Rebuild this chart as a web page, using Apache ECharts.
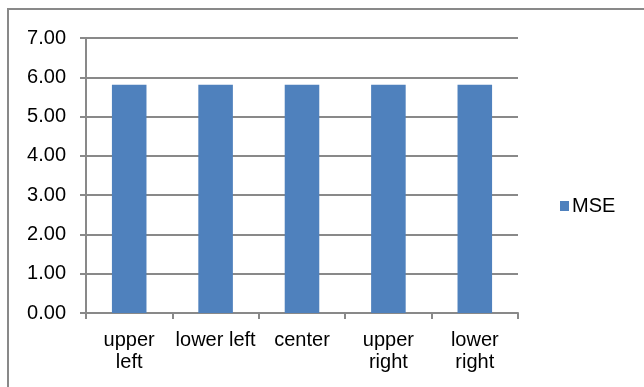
<!DOCTYPE html>
<html>
<head>
<meta charset="utf-8">
<script src="https://cdn.jsdelivr.net/npm/echarts@6/dist/echarts.min.js"></script>
<style>
  html, body { margin: 0; padding: 0; background: #fff; }
  #chart { width: 644px; height: 387px; }
</style>
</head>
<body>
<div id="chart"></div>
<script>
// categories and values
const categories = ['upper\nleft', 'lower left', 'center', 'upper\nright', 'lower\nright'];
const mseValues = [5.81, 5.81, 5.81, 5.81, 5.81];
const seriesName = 'MSE';

const gray = '#898989';
const font = 'Liberation Sans, Arial, sans-serif';

const myChart = echarts.init(document.getElementById('chart'));
const option = {
  animation: false,
  color: ['#4f81bd'],
  graphic: [{
    // outer chart frame (cut off right and bottom)
    type: 'rect',
    silent: true,
    shape: { x: 8, y: 9, width: 800, height: 600 },
    style: { fill: 'none', stroke: gray, lineWidth: 2 }
  }],
  legend: {
    data: [seriesName],
    left: 555,
    top: 191,
    itemWidth: 9,
    itemHeight: 10,
    icon: 'rect',
    textStyle: { fontFamily: font, fontSize: 20, color: '#000', padding: [0, 0, 0, -2] }
  },
  grid: {
    left: 86,
    right: 126,
    top: 38,
    bottom: 74,
    containLabel: false
  },
  xAxis: {
    type: 'category',
    data: categories,
    axisLine: { show: true, lineStyle: { color: gray, width: 2 } },
    axisTick: { show: true, length: 6, lineStyle: { color: gray, width: 2 } },
    axisLabel: {
      color: '#000',
      fontFamily: font,
      fontSize: 20,
      lineHeight: 22,
      margin: 16,
      interval: 0
    },
    splitLine: { show: false }
  },
  yAxis: {
    type: 'value',
    min: 0,
    max: 7,
    interval: 1,
    axisLine: { show: true, lineStyle: { color: gray, width: 2 } },
    axisTick: { show: true, length: 6, lineStyle: { color: gray, width: 2 } },
    axisLabel: {
      color: '#000',
      fontFamily: font,
      fontSize: 20,
      margin: 20,
      formatter: v => v.toFixed(2)
    },
    splitLine: { show: true, lineStyle: { color: gray, width: 2 } }
  },
  series: [{
    name: seriesName,
    type: 'bar',
    barWidth: '40%',
    data: mseValues
  }]
};
myChart.setOption(option);
</script>
</body>
</html>
